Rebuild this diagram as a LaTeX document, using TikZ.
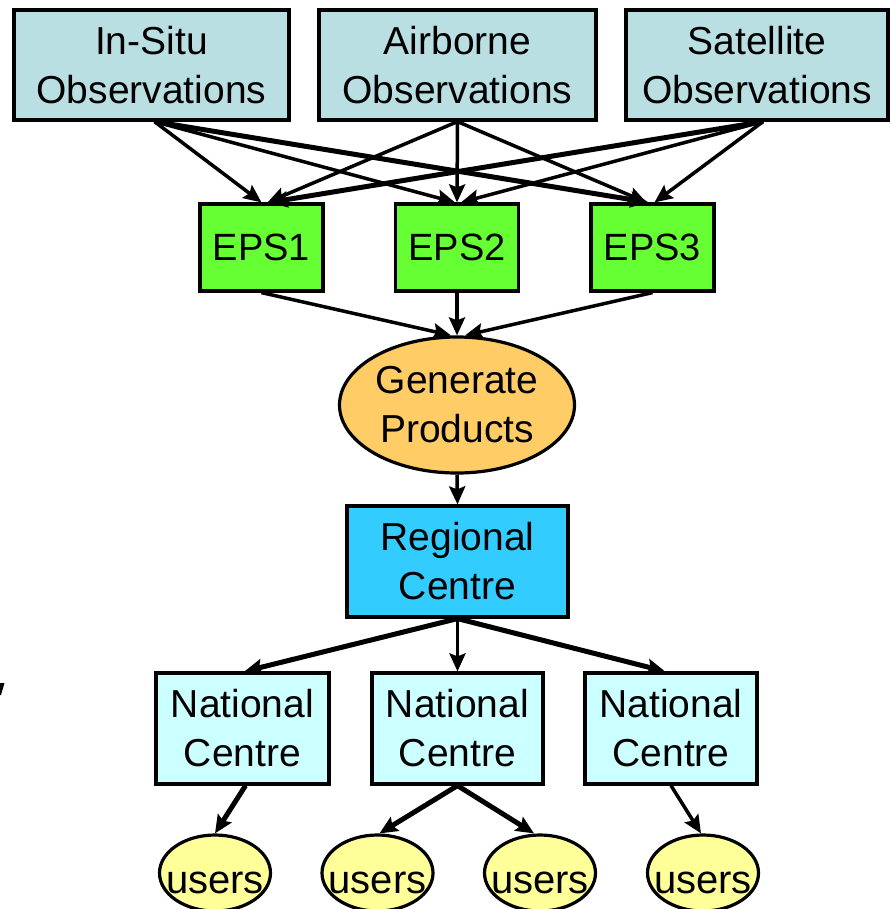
\documentclass[tikz,border=0pt]{standalone}
\usepackage{fontspec}
\setmainfont{Liberation Sans}
\usetikzlibrary{arrows.meta,shapes.geometric,calc}
\definecolor{obsfill}{HTML}{B9DFE3}
\definecolor{epsfill}{HTML}{66FF33}
\definecolor{genfill}{HTML}{FFCC66}
\definecolor{regfill}{HTML}{33CCFF}
\definecolor{natfill}{HTML}{CCFFFF}
\definecolor{userfill}{HTML}{FFFF99}
\begin{document}
\begin{tikzpicture}[x=1bp,y=-1bp,
  txt/.style={font=\fontsize{39bp}{49bp}\selectfont, align=center, inner sep=0pt, draw=black, line width=3.2bp},
  obsbox/.style={txt, rectangle, fill=obsfill, minimum height=110bp},
  epsbox/.style={txt, rectangle, fill=epsfill, minimum width=123bp, minimum height=87bp, font=\fontsize{38bp}{46bp}\selectfont},
  genell/.style={txt, ellipse, fill=genfill, minimum width=235bp, minimum height=136bp},
  regbox/.style={txt, rectangle, fill=regfill, minimum width=221bp, minimum height=111bp},
  natbox/.style={txt, rectangle, fill=natfill, minimum height=111bp},
  userell/.style={txt, ellipse, fill=userfill, minimum width=111bp, minimum height=76bp},
  usertxt/.style={font=\fontsize{40bp}{48bp}\selectfont, inner sep=0pt},
  conn/.style={line width=3.5bp, -{Stealth[length=18bp,width=16bp,inset=3bp]}},
  thickconn/.style={conn, line width=5bp}]
\useasboundingbox (0,0) rectangle (893,909);

% top observation boxes
\node[obsbox, minimum width=275bp] (insitu) at (151.5,65) {In-Situ\\Observations};
\node[obsbox, minimum width=277bp] (airborne) at (457.5,65) {Airborne\\Observations};
\node[obsbox, minimum width=262bp] (satellite) at (757,65) {Satellite\\Observations};

% EPS boxes
\node[epsbox] (eps1) at (261.5,247.5) {EPS1};
\node[epsbox] (eps2) at (457,247.5) {EPS2};
\node[epsbox] (eps3) at (652.5,247.5) {EPS3};

% generate products
\node[genell] (gen) at (457,405) {Generate\\Products};

% regional centre
\node[regbox] (reg) at (457.5,561.5) {Regional\\Centre};

% national centres
\node[natbox, minimum width=173bp] (nc1) at (242.5,728.5) {National\\Centre};
\node[natbox, minimum width=171bp] (nc2) at (457.5,728.5) {National\\Centre};
\node[natbox, minimum width=172bp] (nc3) at (671,728.5) {National\\Centre};

% users
\node[userell] (u1) at (215,873) {};
\node[userell] (u2) at (377.5,873) {};
\node[userell] (u3) at (540,873) {};
\node[userell] (u4) at (703,873) {};
\node[usertxt] (u1t) at ($(u1)+(0,10)$) {users};
\node[usertxt] (u2t) at ($(u2)+(0,10)$) {users};
\node[usertxt] (u3t) at ($(u3)+(0,10)$) {users};
\node[usertxt] (u4t) at ($(u4)+(0,10)$) {users};

% observations -> EPS
\draw[conn] ($(insitu.south)+(3,0)$) -- ($(eps1.north)+(0,0)$);
\draw[conn] ($(insitu.south)+(3,0)$) -- ($(eps2.north)+(-2,0)$);
\draw[thickconn] ($(insitu.south)+(3,0)$) -- ($(eps3.north)+(-4,0)$);
\draw[conn] (airborne.south) -- ($(eps1.north)+(6,0)$);
\draw[conn] (airborne.south) -- (eps2.north);
\draw[conn] (airborne.south) -- ($(eps3.north)+(-6,0)$);
\draw[thickconn] ($(satellite.south)+(6,0)$) -- ($(eps1.north)+(8,0)$);
\draw[conn] ($(satellite.south)+(6,0)$) -- ($(eps2.north)+(4,0)$);
\draw[conn] ($(satellite.south)+(6,0)$) -- ($(eps3.north)+(2,0)$);

% EPS -> generate
\draw[conn] (eps1.south) -- ($(gen.north)+(-6,0)$);
\draw[conn] (eps2.south) -- (gen.north);
\draw[conn] (eps3.south) -- ($(gen.north)+(8,0)$);

% generate -> regional
\draw[conn] (gen.south) -- (reg.north);

% regional -> national
\draw[thickconn] (reg.south) -- ($(nc1.north)+(2,0)$);
\draw[conn] (reg.south) -- (nc2.north);
\draw[thickconn] (reg.south) -- ($(nc3.north)+(-6,0)$);

% national -> users
\draw[thickconn] ($(nc1.south)+(3,0)$) -- (u1.north);
\draw[thickconn] (nc2.south) -- ($(u2.north)+(2,0)$);
\draw[thickconn] (nc2.south) -- ($(u3.north)+(-6,0)$);
\draw[conn] ($(nc3.south)+(0,0)$) -- ($(u4.north)+(-2,0)$);

% small mark at left edge
\fill[black] (0,683) -- (4.5,683) -- (1,695) -- (0,695) -- cycle;
\end{tikzpicture}
\end{document}
